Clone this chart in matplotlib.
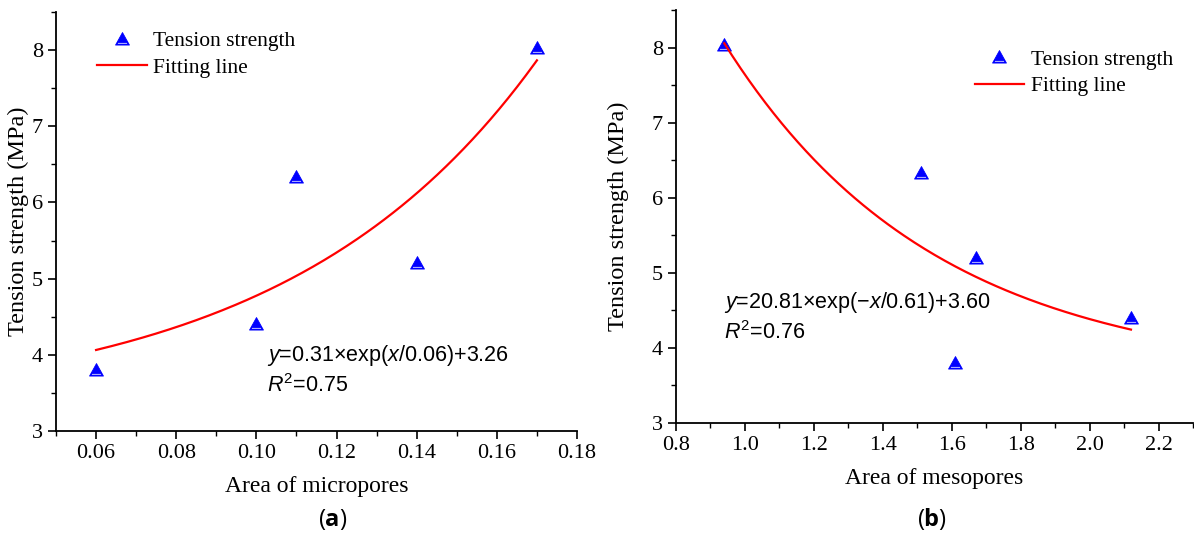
import numpy as np
import matplotlib
matplotlib.use("Agg")
import matplotlib.pyplot as plt
from matplotlib.path import Path

# Tension strength against pore area
micro_area = [0.06, 0.10, 0.11, 0.14, 0.17]
meso_area = [0.94, 1.51, 1.61, 1.67, 2.12]
strength_micro = [3.80, 4.40, 6.33, 5.20, 8.03]
strength_meso = [8.03, 6.33, 3.80, 5.20, 4.40]

# Exponential fit parameters: y = a*exp(x/b) + c
fit_micro = (0.31, 0.063, 3.26)
fit_meso = (20.81, -0.61, 3.60)

micro_ticks = [0.06, 0.08, 0.10, 0.12, 0.14, 0.16, 0.18]
meso_ticks = [0.8, 1.0, 1.2, 1.4, 1.6, 1.8, 2.0, 2.2]
strength_ticks = [3, 4, 5, 6, 7, 8]

plt.rcParams["mathtext.fontset"] = "custom"
plt.rcParams["mathtext.rm"] = "Liberation Sans"
plt.rcParams["mathtext.it"] = "Liberation Sans:italic"
plt.rcParams["mathtext.bf"] = "Open Sans:bold"

W, H = 1194, 537
fig = plt.figure(figsize=(W / 100, H / 100), dpi=100)


def px_axes(x0, y0, x1, y1):
    return fig.add_axes([x0 / W, 1 - y1 / H, (x1 - x0) / W, (y1 - y0) / H])


serif = "Liberation Serif"
sans = "Liberation Sans"

# Filled triangle with a thin open strip near its base
tri_verts = [(-1, -0.8), (1, -0.8), (0, 1), (-1, -0.8),
             (-0.72, -0.66), (-0.72, -0.44), (0.72, -0.44), (0.72, -0.66),
             (-0.72, -0.66)]
tri_codes = [Path.MOVETO, Path.LINETO, Path.LINETO, Path.CLOSEPOLY,
             Path.MOVETO, Path.LINETO, Path.LINETO, Path.LINETO,
             Path.CLOSEPOLY]
tri_marker = Path(tri_verts, tri_codes)


def style(ax, xlim, xticks, minor_step, xlabel, ylabel_x):
    ax.set_xlim(*xlim)
    ax.set_ylim(3, 8.5)
    ax.set_xticks(xticks)
    ax.set_xticks(np.arange(xlim[0], xlim[1] + 1e-9, minor_step), minor=True)
    ax.set_yticks(strength_ticks)
    ax.set_yticks(np.arange(3, 8.51, 0.5), minor=True)
    for s in ("top", "right"):
        ax.spines[s].set_visible(False)
    for s in ("left", "bottom"):
        ax.spines[s].set_linewidth(1.3)
    ax.tick_params(which="major", direction="out", length=6, width=1.2,
                   labelsize=16)
    ax.tick_params(which="minor", direction="out", length=3.5, width=1.0)
    for lab in ax.get_xticklabels() + ax.get_yticklabels():
        lab.set_fontfamily(serif)
    ax.set_xlabel(xlabel, fontfamily=serif, fontsize=17, labelpad=9)
    ax.set_ylabel("Tension strength (MPa)", fontfamily=serif, fontsize=17.5)
    ax.yaxis.set_label_coords(ylabel_x, 0.5)


def fit_curve(x, p):
    a, b, c = p
    return a * np.exp(x / b) + c


marker_kw = dict(linestyle="none", marker=tri_marker, markersize=10,
                 color="#0000ff", markerfacecolor="#0000ff",
                 markeredgecolor="#0000ff", markeredgewidth=0.6)

legend_kw = dict(frameon=False, prop={"family": serif, "size": 15.5},
                 handlelength=2.3, handletextpad=0.3, labelspacing=0.3,
                 borderaxespad=0.3)

# (a) micropores
ax1 = px_axes(56, 12, 577, 431)
style(ax1, (0.05, 0.18), micro_ticks, 0.01, "Area of micropores",
      (29 - 56) / 521)
ax1.set_xticklabels(["0.06", "0.08", "0.10", "0.12", "0.14", "0.16", "0.18"])
ax1.plot(micro_area, strength_micro, label="Tension strength", **marker_kw)
xs = np.linspace(min(micro_area), max(micro_area), 200)
ax1.plot(xs, fit_curve(xs, fit_micro), color="#ff0000", lw=1.6,
         label="Fitting line")
ax1.legend(loc="upper left", bbox_to_anchor=(0.05, 0.99), **legend_kw)
ax1.text(0.06 + (268 - 97) / 4000, 3.99, r"$y$=0.31×exp($x$/0.06)+3.26",
         fontfamily=sans, fontsize=15.5, va="center", ha="left")
ax1.text(0.06 + (268 - 97) / 4000, 3.60, r"$R^2$=0.75",
         fontfamily=sans, fontsize=15.5, va="center", ha="left")

# (b) mesopores
ax2 = px_axes(676, 10, 1193, 423)
style(ax2, (0.8, 2.3), meso_ticks, 0.1, "Area of mesopores",
      (629 - 676) / 517)
ax2.set_xticklabels(["0.8", "1.0", "1.2", "1.4", "1.6", "1.8", "2.0", "2.2"])
ax2.plot(meso_area, strength_meso, label="Tension strength", **marker_kw)
xs = np.linspace(min(meso_area), max(meso_area), 200)
ax2.plot(xs, fit_curve(xs, fit_meso), color="#ff0000", lw=1.6,
         label="Fitting line")
ax2.legend(loc="upper right", bbox_to_anchor=(0.99, 0.94), **legend_kw)
ax2.text(0.8 + (724 - 676) / 345, 4.61, r"$y$=20.81×exp(−$x$/0.61)+3.60",
         fontfamily=sans, fontsize=15.5, va="center", ha="left")
ax2.text(0.8 + (724 - 676) / 345, 4.21, r"$R^2$=0.76",
         fontfamily=sans, fontsize=15.5, va="center", ha="left")

# Panel captions
fig.text(333 / W, 1 - 519 / H, r"($\mathbf{a}$)", fontfamily="Open Sans",
         fontsize=17, ha="center", va="center")
fig.text(932 / W, 1 - 519 / H, r"($\mathbf{b}$)", fontfamily="Open Sans",
         fontsize=17, ha="center", va="center")

fig.savefig("out.png", dpi=100)
